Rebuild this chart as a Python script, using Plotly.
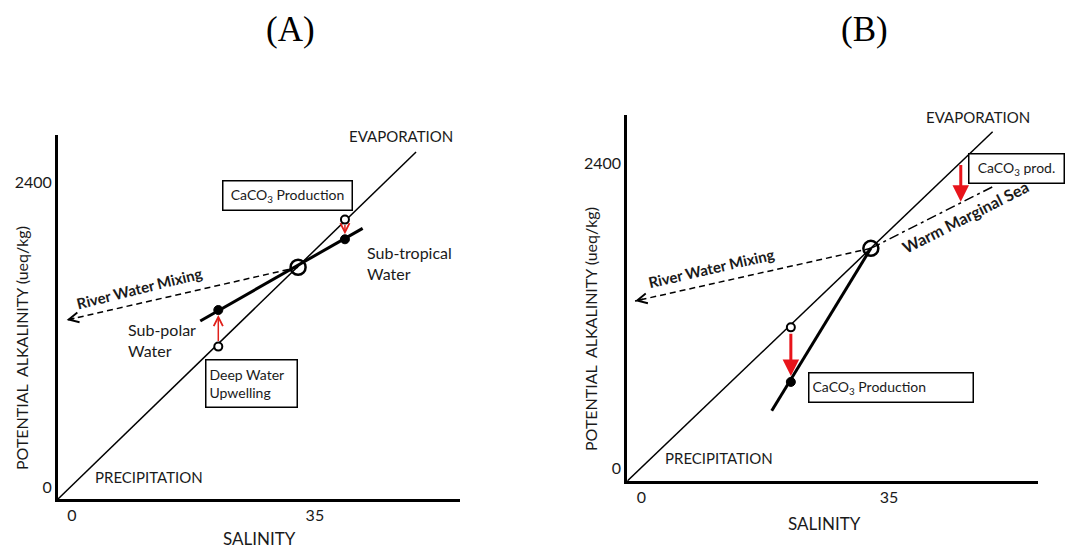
import plotly.graph_objects as go

FONT = "Lato"
TXT = "#1a1a1a"

# ---------------- data (salinity, potential alkalinity) ----------------
x_tickvals = [0, 35]
x_ticktext = ["0", "35"]
y_tickvals = [0, 2400]
y_ticktext = ["0", "2400"]

# Panel A
a_diag_s, a_diag_a = [0, 51.6], [0, 2732]
a_mix_s, a_mix_a = [20.5, 43.9], [1402, 2131]
a_center_s, a_center_a = [34.6], [1825]
a_open_s, a_open_a = [23.1, 41.35], [1200, 2200]
a_fill_s, a_fill_a = [23.1, 41.35], [1488, 2045]
a_river_s, a_river_a = [34.6, 1.25], [1825, 1409]

# Panel B
b_diag_s, b_diag_a = [0, 51.6], [0, 2750]
b_mix_s, b_mix_a = [34.4, 20.4], [1832, 553]
b_center_s, b_center_a = [34.4], [1832]
b_open_s, b_open_a = [23.1], [1210]
b_fill_s, b_fill_a = [23.1], [780]
b_river_s, b_river_a = [34.4, 1.09], [1832, 1417]
b_marg_s, b_marg_a = [34.4, 51.6], [1832, 2317]
b_prod_s, b_prod_a = [47.1, 47.1], [2501, 2199]

# page has an 8px body margin: figure is sized to fill the rest of the window
OFF = 8
W, H = 1079 - OFF, 550 - OFF


def fx(px):
    return (px - OFF) / W


def fy(py):
    return (H + OFF - py) / H


fig = go.Figure()

DASH = "6px,4px"
DASHDOT = "10px,4px,3px,4px"


def line(s, a, ax, width, dash="solid"):
    fig.add_trace(go.Scatter(x=s, y=a, mode="lines", xaxis="x" + ax, yaxis="y" + ax,
                             line=dict(color="black", width=width, dash=dash),
                             hoverinfo="skip", showlegend=False))


def pts(s, a, ax, symbol, size, fill, lw):
    fig.add_trace(go.Scatter(x=s, y=a, mode="markers", xaxis="x" + ax, yaxis="y" + ax,
                             marker=dict(symbol=symbol, size=size, color=fill,
                                         line=dict(color="black", width=lw)),
                             hoverinfo="skip", showlegend=False, cliponaxis=False))


# Panel A marks
line(a_diag_s, a_diag_a, "", 1.5)
line(a_river_s, a_river_a, "", 1.5, DASH)
line(a_mix_s, a_mix_a, "", 3)
pts(a_center_s, a_center_a, "", "circle-open", 15, "black", 2.5)
pts(a_open_s, a_open_a, "", "circle", 8, "white", 2)
pts(a_fill_s, a_fill_a, "", "circle", 9, "black", 1)

# Panel B marks
line(b_diag_s, b_diag_a, "2", 1.5)
line(b_river_s, b_river_a, "2", 1.5, DASH)
line(b_marg_s, b_marg_a, "2", 1.5, DASHDOT)
line(b_mix_s, b_mix_a, "2", 3)
pts(b_center_s, b_center_a, "2", "circle-open", 15, "black", 2.5)
pts(b_open_s, b_open_a, "2", "circle", 8, "white", 2)
pts(b_fill_s, b_fill_a, "2", "circle", 9, "black", 1)

ann = []


def arrow(ax, s_from, a_from, s_to, a_to, color, width, head, size, st=0, sst=0):
    ann.append(dict(xref="x" + ax, yref="y" + ax, axref="x" + ax, ayref="y" + ax,
                    x=s_to, y=a_to, ax=s_from, ay=a_from, text="", showarrow=True,
                    arrowcolor=color, arrowwidth=width, arrowhead=head, arrowsize=size,
                    standoff=st, startstandoff=sst))


def head_at_end(ax, s, a):
    # short arrow placed at the end of a dashed path, pointing along it
    f = 0.04
    arrow(ax, s[1] + (s[0] - s[1]) * f, a[1] + (a[0] - a[1]) * f, s[1], a[1], "black", 1.5, 5, 1.3)


# red arrows
arrow("", a_open_s[0], a_open_a[0], a_fill_s[0], a_fill_a[0], "#e0201b", 1.5, 5, 1.2, st=5, sst=4)
arrow("", a_open_s[1], a_open_a[1], a_fill_s[1], a_fill_a[1], "#e0201b", 1.5, 5, 1.2, st=5, sst=4)
arrow("2", b_open_s[0], b_open_a[0], b_fill_s[0], b_fill_a[0], "#e8141b", 3, 2, 1.1, st=6, sst=5)
arrow("2", b_prod_s[0], b_prod_a[0], b_prod_s[1], b_prod_a[1], "#e8141b", 3, 2, 1.1)
head_at_end("", a_river_s, a_river_a)
head_at_end("2", b_river_s, b_river_a)
head_at_end("2", b_marg_s, b_marg_a)


def label(ax, s, a, text, size=15, angle=0, xanchor="center", align="center", bold=False):
    ann.append(dict(xref="x" + ax, yref="y" + ax, x=s, y=a, text=("<b>%s</b>" % text) if bold else text,
                    showarrow=False, textangle=angle, xanchor=xanchor, align=align,
                    font=dict(family=FONT, size=size, color=TXT)))


def box(ax, s, a, text, w, h, align="center"):
    ann.append(dict(xref="x" + ax, yref="y" + ax, x=s, y=a, text=text, showarrow=False,
                    width=w, height=h, align=align, bordercolor="black", borderwidth=1.5,
                    borderpad=3, bgcolor="white", font=dict(family=FONT, size=14, color=TXT)))


# Panel A text
label("", 49.4, 2858, "EVAPORATION")
label("", 13.1, 173, "PRECIPITATION")
label("", 11.8, 1661, "River Water Mixing", size=15, angle=-14, bold=True)
label("", 44.2, 1858, "Sub-tropical<br>Water", size=16, xanchor="left", align="left")
label("", 9.8, 1252, "Sub-polar<br>Water", size=16, xanchor="left", align="left")
box("", 33.0, 2386, "CaCO<sub>3</sub> Production", 122, 22)
box("", 27.95, 909, "Deep Water<br>Upwelling", 84, 40, align="left")

# Panel B text
label("2", 49.5, 2866, "EVAPORATION")
label("2", 13.0, 181, "PRECIPITATION")
label("2", 11.9, 1675, "River Water Mixing", size=15, angle=-13, bold=True)
label("2", 47.8, 2079, "Warm Marginal Sea", size=16, angle=-27, bold=True)
box("2", 54.9, 2461, "CaCO<sub>3</sub> prod.", 88, 22)
box("2", 37.2, 740, "CaCO<sub>3</sub> Production", 157, 22, align="left")


def paper(px, py, text, size, family=FONT, angle=0, yanchor="middle"):
    ann.append(dict(xref="paper", yref="paper", x=fx(px), y=fy(py), text=text,
                    showarrow=False, textangle=angle, xanchor="center", yanchor=yanchor,
                    font=dict(family=family, size=size, color="black" if family != FONT else TXT)))


paper(290, OFF, "(A)", 35, family="Liberation Serif", yanchor="top")
paper(864, OFF, "(B)", 35, family="Liberation Serif", yanchor="top")
paper(259, 538, "SALINITY", 17)
paper(824, 523, "SALINITY", 17)
paper(22, 348, "POTENTIAL  ALKALINITY (ueq/kg)", 16, angle=-90)
paper(590, 329, "POTENTIAL  ALKALINITY (ueq/kg)", 16, angle=-90)

axis_common = dict(showline=True, linecolor="black", linewidth=3, showgrid=False, zeroline=False,
                   ticks="", tickfont=dict(family=FONT, size=16, color=TXT), fixedrange=True)

fig.update_layout(
    width=W, height=H, paper_bgcolor="white", plot_bgcolor="white",
    margin=dict(l=0, r=0, t=0, b=0, autoexpand=False),
    xaxis=dict(domain=[fx(58), fx(460)], range=[0, 57.93], anchor="y",
               tickvals=x_tickvals, ticktext=x_ticktext, ticklabelshift=14, **axis_common),
    yaxis=dict(domain=[fy(499), fy(135)], range=[0, 2866], anchor="x",
               tickvals=y_tickvals, ticktext=y_ticktext, ticklabelshift=-12, **axis_common),
    xaxis2=dict(domain=[fx(627.3), fx(1038.3)], range=[0, 58.05], anchor="y2",
                tickvals=x_tickvals, ticktext=x_ticktext, ticklabelshift=14, **axis_common),
    yaxis2=dict(domain=[fy(481), fy(115)], range=[0, 2882], anchor="x2",
                tickvals=y_tickvals, ticktext=y_ticktext, ticklabelshift=-13, **axis_common),
    annotations=ann,
    showlegend=False,
)

fig.write_html("out.html")
